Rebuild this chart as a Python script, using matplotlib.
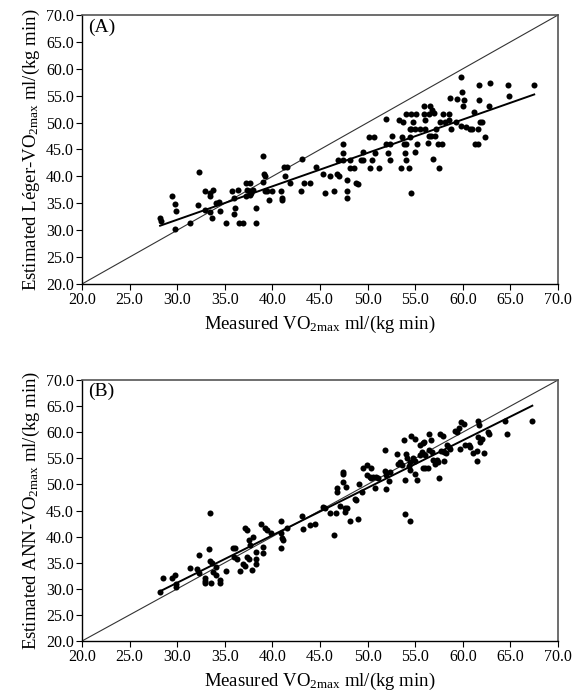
import numpy as np
import matplotlib.pyplot as plt

plt.rcParams['font.family'] = ['Liberation Serif', 'DejaVu Serif']
plt.rcParams['mathtext.fontset'] = 'custom'
plt.rcParams['mathtext.rm'] = 'Liberation Serif'
plt.rcParams['mathtext.it'] = 'Liberation Serif:italic'

# (A) Léger estimate vs measured VO2max
medido_a = [28.2, 28.3, 29.5, 29.8, 29.9, 29.8, 31.3, 32.3, 32.2, 32.9, 33.4, 33.4,
            33.8, 32.9, 33.4, 33.7, 34.1, 34.4, 34.5, 35.1, 35.8, 36.0, 36.1, 36.0,
            36.5, 36.9, 36.4, 37.2, 37.6, 37.3, 37.5, 37.6, 37.8, 37.2, 38.0, 38.3,
            38.3, 39.0, 39.0, 39.1, 39.2, 39.2, 39.4, 39.6, 40.0, 40.9, 41.0, 41.0,
            41.2, 41.5, 41.3, 41.8, 43.1, 43.0, 43.3, 43.9, 44.6,
            45.3, 45.5, 46.1, 46.5, 46.8, 47.0, 46.9, 47.4, 47.4, 47.4, 47.8, 47.8,
            47.8, 48.1, 48.2, 48.6, 48.8, 49.0, 49.3, 49.5, 49.5, 50.1, 50.7, 50.3,
            50.5, 50.8, 51.2, 51.9, 51.9, 52.3, 52.1, 52.3, 52.6, 53.3, 53.7, 53.5,
            53.6, 53.8, 54.0, 53.9, 54.0, 54.3, 54.0, 54.6, 55.1, 54.4, 54.6, 54.6,
            54.5, 54.8, 55.0, 55.5, 56.0, 55.0, 55.2, 55.9, 56.6, 55.9, 56.4, 56.0,
            56.4, 56.7, 57.1, 56.3, 56.8, 57.0, 56.9, 57.2, 57.4, 57.8, 57.5, 57.6,
            58.1, 58.5, 57.9, 58.5, 58.7, 58.8, 59.4, 59.3, 59.8, 59.9, 60.1, 60.0,
            59.8, 60.3, 60.8, 61.0, 61.2, 61.3, 61.6, 61.6, 61.7, 61.7, 61.8, 62.0,
            62.3, 62.7, 62.9, 64.7, 64.8, 67.5]
estimado_a = [32.2, 31.7, 36.4, 34.9, 33.6, 30.2, 31.4, 40.8, 34.7, 37.2, 36.9, 36.4,
              37.5, 33.8, 33.3, 32.2, 35.0, 35.3, 33.6, 31.4, 37.3, 35.9, 34.2, 33.0,
              31.4, 31.4, 37.5, 38.8, 38.8, 37.5, 37.2, 36.5, 37.0, 36.4, 37.5, 34.2,
              31.4, 39.0, 43.8, 40.4, 40.1, 37.2, 37.2, 35.7, 37.2, 37.2, 35.9, 35.6,
              41.8, 41.8, 40.1, 38.8, 43.3, 37.2, 38.8, 38.7, 41.8,
              40.4, 37.0, 40.1, 37.2, 40.4, 40.1, 43.0, 46.0, 44.4, 43.0, 39.3, 37.3,
              36.0, 43.0, 41.6, 41.6, 38.8, 38.5, 43.0, 43.0, 44.6, 47.4, 47.4, 41.6,
              43.0, 44.4, 41.6, 50.6, 46.0, 46.0, 44.4, 43.0, 47.5, 50.5, 50.2, 41.6,
              47.4, 46.0, 46.0, 44.4, 43.0, 41.6, 51.6, 51.6, 51.6, 48.9, 48.9, 37.0,
              47.4, 50.2, 48.9, 48.9, 48.9, 44.6, 46.0, 53.0, 53.0, 51.6, 51.6, 50.5,
              47.5, 47.5, 47.5, 46.3, 52.3, 51.8, 43.2, 48.9, 46.0, 46.0, 41.6, 50.2,
              50.2, 50.5, 51.6, 51.6, 54.5, 48.8, 54.3, 50.2, 58.5, 55.7, 54.2, 53.0,
              49.3, 49.1, 48.9, 48.8, 52.0, 46.0, 46.0, 48.8, 56.9, 54.2, 50.2, 50.2,
              47.4, 53.0, 57.3, 57.0, 55.0, 57.0]

# (B) ANN estimate vs measured VO2max
medido_b = [28.2, 28.5, 29.5, 29.8, 29.9, 29.9, 31.3, 32.1, 32.3, 32.3, 32.9, 32.9,
            32.9, 33.3, 33.4, 33.4, 33.7, 33.6, 33.8, 34.1, 34.1, 34.5, 34.5, 35.1,
            35.9, 36.1, 36.0, 36.3, 36.6, 36.9, 37.1, 37.1, 37.3, 37.5, 37.6, 37.3,
            37.5, 37.9, 38.0, 38.3, 38.3, 38.3, 38.8, 39.0, 39.0, 39.2, 39.4, 39.9,
            40.9, 40.9, 41.0, 41.1, 40.9, 41.5, 43.1, 43.2, 43.9, 44.5,
            45.3, 45.5, 46.0, 46.5, 46.7, 46.8, 46.8, 47.1, 47.4, 47.4, 47.4, 47.6,
            47.8, 47.6, 47.7, 48.2, 48.7, 48.8, 49.0, 49.1, 49.4, 49.5, 49.9, 50.4,
            49.9, 50.3, 50.4, 50.6, 50.9, 50.8, 51.1, 51.8, 51.8, 51.9, 52.2, 51.9,
            52.3, 53.1, 53.2, 53.4, 53.6, 53.8, 53.9, 53.9, 54.5, 54.0, 54.1, 54.4,
            54.4, 54.3, 54.6, 54.8, 55.0, 55.0, 55.0, 55.2, 55.5, 55.8, 55.9, 55.5,
            55.7, 56.0, 55.8, 56.0, 56.3, 56.4, 56.5, 56.8, 56.7, 56.9, 57.3, 57.1,
            57.4, 58.0, 57.5, 57.6, 57.9, 57.7, 58.0, 58.3, 58.6, 58.7, 58.2, 59.2,
            59.4, 59.6, 59.8, 60.1, 59.7, 60.2, 60.6, 60.8, 61.1, 61.5, 61.5, 61.6,
            61.7, 61.6, 61.8, 62.0, 62.2, 62.6, 62.8, 64.4, 64.6, 67.3]
estimado_b = [29.4, 32.1, 32.1, 32.6, 30.9, 30.4, 34.0, 33.8, 36.5, 33.0, 32.1, 31.4,
              31.1, 37.6, 44.6, 35.3, 34.9, 31.1, 33.3, 32.6, 34.2, 31.7, 31.1, 33.4,
              37.8, 37.9, 36.1, 35.8, 33.4, 34.7, 34.4, 41.7, 41.3, 39.3, 38.4, 36.1,
              35.8, 33.6, 40.0, 37.1, 35.8, 34.7, 42.5, 38.1, 36.8, 41.7, 41.3, 40.6,
              42.9, 40.6, 39.7, 39.3, 37.8, 41.6, 44.0, 41.4, 42.2, 42.4,
              45.7, 45.4, 44.6, 40.3, 44.6, 49.3, 48.6, 45.9, 52.4, 51.9, 50.5, 45.4,
              45.5, 44.8, 49.6, 42.9, 47.3, 47.0, 43.4, 50.0, 48.6, 53.2, 53.7, 53.2,
              51.8, 51.5, 51.2, 51.5, 51.5, 49.3, 51.3, 56.6, 52.6, 51.8, 50.7, 49.1,
              52.4, 55.9, 53.9, 54.2, 53.7, 58.5, 50.8, 44.3, 42.9, 55.9, 55.0, 54.2,
              52.8, 53.6, 59.3, 55.0, 54.4, 58.7, 51.9, 50.8, 57.5, 57.9, 58.2, 55.6,
              56.3, 55.6, 53.2, 53.2, 53.2, 59.6, 56.6, 56.3, 58.5, 54.7, 54.7, 53.9,
              54.2, 54.5, 51.2, 59.6, 59.3, 56.4, 56.2, 57.5, 57.2, 56.8, 56.0, 60.2,
              60.0, 60.8, 61.9, 61.5, 56.8, 57.5, 57.5, 57.2, 56.0, 56.4, 54.4, 62.1,
              61.4, 59.1, 58.2, 58.7, 56.0, 60.0, 59.6, 62.1, 59.6, 62.2]

ticks = np.arange(20, 70.1, 5)
tick_labels = [f"{t:.1f}" for t in ticks]

fig = plt.figure(figsize=(5.8, 6.95), dpi=100)
ax_a = fig.add_axes([0.1414, 0.5914, 0.8207, 0.387])
ax_b = fig.add_axes([0.1414, 0.0777, 0.8207, 0.3755])

paineis = [
    (ax_a, medido_a, estimado_a, "(A)", "Estimated Léger-VO$_{\\mathrm{2max}}$ ml/(kg min)"),
    (ax_b, medido_b, estimado_b, "(B)", "Estimated ANN-VO$_{\\mathrm{2max}}$ ml/(kg min)"),
]

for ax, x, y, letra, rotulo_y in paineis:
    x = np.array(x)
    y = np.array(y)
    # linha identidade
    ax.plot([20, 70], [20, 70], color='#333333', lw=0.8, zorder=1)
    # regressao linear
    coef = np.polyfit(x, y, 1)
    xr = np.array([x.min(), x.max()])
    ax.plot(xr, np.polyval(coef, xr), color='black', lw=1.4, zorder=2)
    ax.scatter(x, y, s=19, color='black', linewidths=0, zorder=3)

    ax.set_xlim(20, 70)
    ax.set_ylim(20, 70)
    ax.set_xticks(ticks)
    ax.set_xticklabels(tick_labels)
    ax.set_yticks(ticks)
    ax.set_yticklabels(tick_labels)
    ax.tick_params(direction='out', length=4, width=0.8, labelsize=11.5, pad=2)
    for lado in ['left', 'bottom']:
        ax.spines[lado].set_linewidth(1.0)
        ax.spines[lado].set_color('black')
    for lado in ['top', 'right']:
        ax.spines[lado].set_linewidth(1.2)
        ax.spines[lado].set_color('#555555')
    ax.text(0.012, 0.988, letra, transform=ax.transAxes, ha='left', va='top', fontsize=14)
    ax.set_xlabel("Measured VO$_{\\mathrm{2max}}$ ml/(kg min)", fontsize=13.5, labelpad=4)
    ax.set_ylabel(rotulo_y, fontsize=13.5, labelpad=3)

fig.savefig("out.png", dpi=100)
